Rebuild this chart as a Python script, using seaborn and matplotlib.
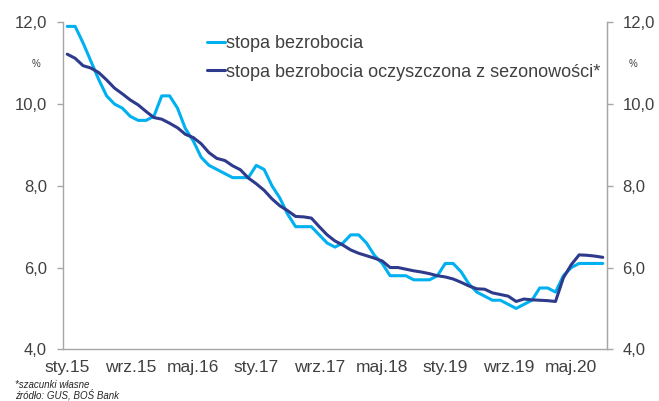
import matplotlib
matplotlib.use("Agg")
import matplotlib.pyplot as plt
import seaborn as sns
import pandas as pd
import numpy as np
from matplotlib.lines import Line2D

months_pl = ["sty", "lut", "mar", "kwi", "maj", "cze", "lip", "sie", "wrz", "paź", "lis", "gru"]
periods = [f"{months_pl[m]}.{y % 100:02d}" for y in range(2015, 2021) for m in range(12)][:69]

stopa = [
    11.9, 11.9, 11.5, 11.05, 10.6, 10.2, 10.0, 9.9, 9.7, 9.6, 9.6, 9.7,
    10.2, 10.2, 9.9, 9.4, 9.1, 8.7, 8.5, 8.4, 8.3, 8.2, 8.2, 8.2,
    8.5, 8.4, 8.0, 7.7, 7.3, 7.0, 7.0, 7.0, 6.8, 6.6, 6.5, 6.6,
    6.8, 6.8, 6.6, 6.3, 6.1, 5.8, 5.8, 5.8, 5.7, 5.7, 5.7, 5.8,
    6.1, 6.1, 5.9, 5.6, 5.4, 5.3, 5.2, 5.2, 5.1, 5.0, 5.1, 5.2,
    5.5, 5.5, 5.4, 5.8, 6.0, 6.1, 6.1, 6.1, 6.1,
]
stopa_sa = [
    11.22, 11.12, 10.94, 10.88, 10.77, 10.59, 10.39, 10.25, 10.10, 9.98, 9.82, 9.67,
    9.63, 9.53, 9.42, 9.26, 9.18, 9.03, 8.81, 8.67, 8.62, 8.49, 8.39, 8.19,
    8.05, 7.89, 7.68, 7.51, 7.39, 7.25, 7.24, 7.21, 7.00, 6.80, 6.65, 6.55,
    6.43, 6.35, 6.29, 6.23, 6.16, 6.00, 6.00, 5.96, 5.92, 5.89, 5.85, 5.80,
    5.77, 5.72, 5.64, 5.55, 5.48, 5.47, 5.38, 5.34, 5.30, 5.17, 5.23, 5.21,
    5.20, 5.19, 5.17, 5.75, 6.07, 6.31, 6.30, 6.28, 6.25,
]
series_names = ["stopa bezrobocia", "stopa bezrobocia oczyszczona z sezonowości*"]
y_ticks = [4.0, 6.0, 8.0, 10.0, 12.0]
y_tick_labels = ["4,0", "6,0", "8,0", "10,0", "12,0"]

sns.set_style("white")
plt.rcParams["font.family"] = ["Liberation Sans", "DejaVu Sans"]

n = len(periods)
df = pd.DataFrame({
    "idx": list(range(n)) * 2,
    "value": stopa + stopa_sa,
    "series": [series_names[0]] * n + [series_names[1]] * n,
})

colors = {series_names[0]: "#00B0F0", series_names[1]: "#2E3A8C"}

fig = plt.figure(figsize=(6.59, 4.01), dpi=100)
ax = fig.add_axes([63.3 / 659, 1 - 349.3 / 401, (606.7 - 63.3) / 659, (349.3 - 22.3) / 401])

sns.lineplot(data=df, x="idx", y="value", hue="series", palette=colors,
             linewidth=2.2, ax=ax, legend=False)

ax.set_xlim(-0.5, n - 0.5)
ax.set_ylim(4, 12)
ax.set_xlabel("")
ax.set_ylabel("")

spine_c = "#A6A6A6"
text_c = "#404040"
for s in ["left", "bottom", "right"]:
    ax.spines[s].set_color(spine_c)
    ax.spines[s].set_linewidth(1.0)
ax.spines["top"].set_visible(False)

label_pos = list(range(0, n, 8))
ax.set_xticks(label_pos)
ax.set_xticklabels([periods[i] for i in label_pos])
ax.set_xticks([p - 0.5 for p in label_pos], minor=True)
ax.tick_params(axis="x", which="major", length=0, pad=8, labelsize=12.5, labelcolor=text_c)
ax.tick_params(axis="x", which="minor", length=5, width=1, color=spine_c, direction="out")

ax.set_yticks(y_ticks)
ax.set_yticklabels(y_tick_labels)
ax.tick_params(axis="y", which="major", length=4.3, width=1, color=spine_c, direction="out",
               pad=7.5, labelsize=12, labelcolor=text_c)

ax2 = ax.twinx()
ax2.set_ylim(4, 12)
ax2.set_yticks(y_ticks)
ax2.set_yticklabels(y_tick_labels)
ax2.tick_params(axis="y", which="major", length=4.3, width=1, color=spine_c, direction="out",
                pad=7, labelsize=12, labelcolor=text_c)
for s in ["left", "bottom", "top"]:
    ax2.spines[s].set_visible(False)
ax2.spines["right"].set_color(spine_c)
ax2.grid(False)
ax.grid(False)

fig.text(36 / 659, 1 - 64 / 401, "%", fontsize=7, color=text_c, ha="center", va="center")
fig.text(632.7 / 659, 1 - 64 / 401, "%", fontsize=7, color=text_c, ha="center", va="center")

handles = [Line2D([0], [0], color=colors[s], lw=2.2) for s in series_names]
leg = fig.legend(handles, series_names, loc="upper left",
                 bbox_to_anchor=(206.5 / 659, 1 - 35.5 / 401),
                 frameon=False, fontsize=13, handlelength=1.0, handletextpad=0.08,
                 borderpad=0, borderaxespad=0, labelspacing=0.62)
for t in leg.get_texts():
    t.set_color(text_c)

fig.text(15 / 659, 1 - 384.5 / 401, "*szacunki własne", fontsize=7, style="italic",
         color="#262626", ha="left", va="center")
fig.text(15 / 659, 1 - 394.5 / 401, "źródło: GUS, BOŚ Bank", fontsize=7, style="italic",
         color="#262626", ha="left", va="center")

fig.savefig("out.png", dpi=100)
